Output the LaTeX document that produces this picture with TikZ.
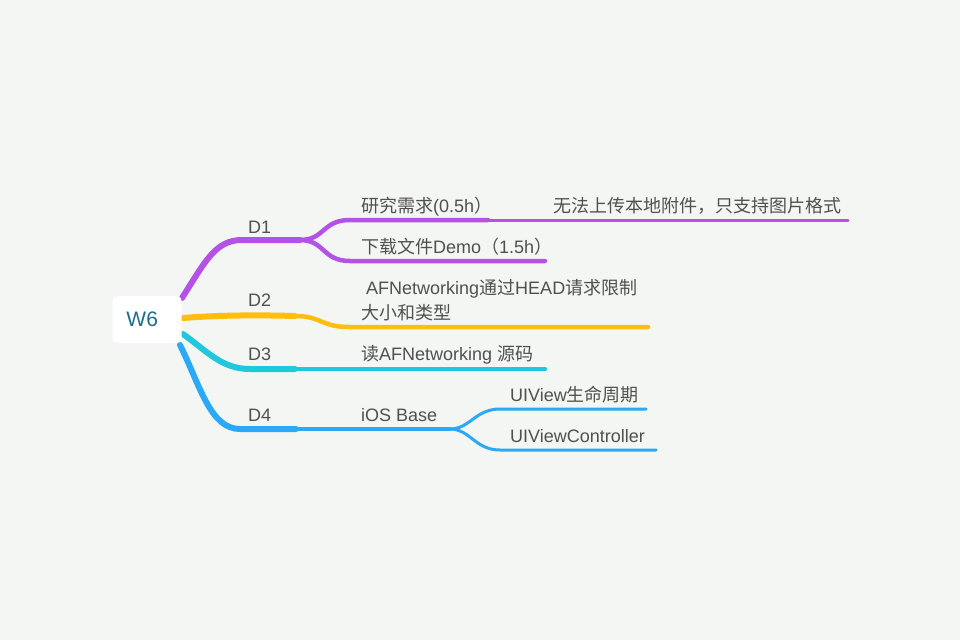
\documentclass[tikz,border=0pt]{standalone}
\usepackage{fontspec}
\setmainfont{Liberation Sans}
\newfontfamily\cjk{Noto Sans CJK SC}
\definecolor{bg}{RGB}{244,246,243}
\definecolor{txt}{RGB}{80,80,80}
\definecolor{rootc}{RGB}{26,110,138}
\definecolor{cpurple}{RGB}{180,82,232}
\definecolor{cyellow}{RGB}{254,190,16}
\definecolor{ccyan}{RGB}{32,200,220}
\definecolor{cblue}{RGB}{42,170,246}
\tikzset{
  lbl/.style={anchor=base west, inner sep=0pt, text=txt, font=\fontsize{18}{23}\selectfont},
  rootbox/.style={fill=white, rounded corners=5pt, minimum width=69pt, minimum height=47pt, inner sep=0pt, text=rootc, font=\fontsize{21}{25}\selectfont},
  thick1/.style={line width=6pt, line cap=round},
  thick2/.style={line width=4.5pt, line cap=round},
  thick3/.style={line width=3pt, line cap=round},
}
\begin{document}
\begin{tikzpicture}[x=1pt,y=-1pt]
\useasboundingbox (0,0) rectangle (960,640);
\fill[bg] (0,0) rectangle (960,640);

% coordinates
\coordinate (r1) at (182,298);
\coordinate (r2) at (183,318);
\coordinate (r3) at (183,334);
\coordinate (r4) at (180,345);
\coordinate (j1) at (300,240);
\coordinate (j2) at (295,316);
\coordinate (j3) at (295,369);
\coordinate (j4) at (450,429);
\coordinate (a1) at (350,220);
\coordinate (a1e) at (488,220);
\coordinate (a1t) at (848,220);
\coordinate (a2) at (350,261);
\coordinate (a2e) at (545,261);
\coordinate (b1) at (350,327);
\coordinate (b1e) at (648,327);
\coordinate (c1e) at (545,369);
\coordinate (e1) at (500,409);
\coordinate (e1e) at (646,409);
\coordinate (e2) at (500,450);
\coordinate (e2e) at (656,450);

% D1 branch
\draw[cpurple,thick1] (r1) .. controls (205,262) and (215,240) .. (242,240) -- (j1);
\draw[cpurple,thick2] (j1) .. controls (325,240) and (322,220) .. (a1) -- (a1e);
\draw[cpurple,thick3] (a1e) -- (a1t);
\draw[cpurple,thick2] (j1) .. controls (325,240) and (322,261) .. (a2) -- (a2e);

% D2 branch
\draw[cyellow,thick1] (r2) .. controls (220,315) and (260,315) .. (j2);
\draw[cyellow,thick2] (j2) .. controls (322,316) and (320,327) .. (b1) -- (b1e);

% D3 branch
\draw[ccyan,thick1] (r3) .. controls (208,352) and (222,369) .. (250,369) -- (j3);
\draw[ccyan,thick2] (j3) -- (c1e);

% D4 branch
\draw[cblue,thick1] (r4) .. controls (200,385) and (210,429) .. (240,429) -- (296,429);
\draw[cblue,thick2] (296,429) -- (j4);
\draw[cblue,thick3] (j4) .. controls (470,429) and (475,409) .. (e1) -- (e1e);
\draw[cblue,thick3] (j4) .. controls (470,429) and (475,450) .. (e2) -- (e2e);

% root
\node[rootbox] (root) at (147.2,319.5) {\hspace*{-10pt}W6};

% labels
\node[lbl] (d1) at (248,233) {D1};
\node[lbl] (d2) at (248,306) {D2};
\node[lbl] (d3) at (248,360) {D3};
\node[lbl] (d4) at (248,421) {D4};

\node[lbl] (n11) at (361,212) {{\cjk 研究需求}(0.5h{\cjk ）}};
\node[lbl] (n111) at (553,212) {{\cjk 无法上传本地附件，只支持图片格式}};
\node[lbl] (n12) at (361,253) {{\cjk 下载文件}Demo{\cjk （}1.5h{\cjk ）}};
\node[lbl] (n21) at (361,294) {\ AFNetworking{\cjk 通过}HEAD{\cjk 请求限制}};
\node[lbl] (n21b) at (361,319) {{\cjk 大小和类型}};
\node[lbl] (n31) at (361,360) {{\cjk 读}AFNetworking {\cjk 源码}};
\node[lbl] (n41) at (361,421) {iOS Base};
\node[lbl] (n411) at (510,401) {UIView{\cjk 生命周期}};
\node[lbl] (n412) at (510,442) {UIViewController};
\end{tikzpicture}
\end{document}
